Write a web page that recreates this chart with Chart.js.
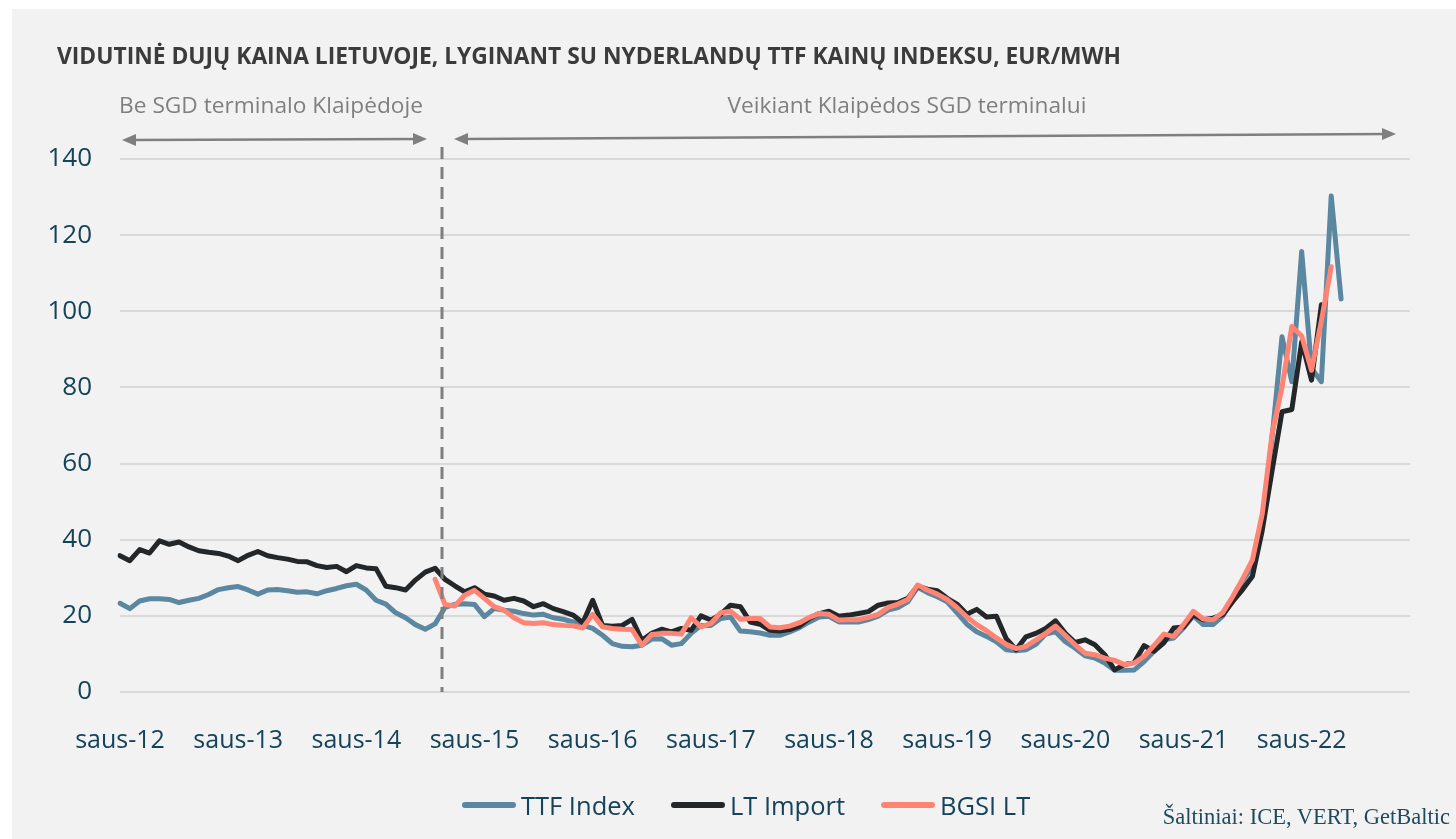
<!DOCTYPE html>
<html>
<head>
<meta charset="utf-8">
<script src="https://cdn.jsdelivr.net/npm/chart.js@4.4.1/dist/chart.umd.min.js"></script>
<style>
  html, body { margin: 0; padding: 0; background: #ffffff; }
  #panel { position: absolute; left: 12px; top: 9px; width: 1444px; height: 830px; background: #f2f2f2; }
  #wrap { position: absolute; left: 0; top: 0; width: 1456px; height: 839px; }
  .txt { position: absolute; font-family: "Open Sans", sans-serif; white-space: nowrap; line-height: 1; }
  #title { left: 57px; top: 45px; font-size: 22.8px; font-weight: 700; color: #3b3b3b; }
  .period { top: 94px; font-size: 22.7px; color: #7f7f7f; transform: translateX(-50%); }
  #legend { position: absolute; left: 462px; top: 788px; display: flex; align-items: center; font-family: "Open Sans", sans-serif; font-size: 25.5px; color: #15435a; }
  #legend .item { display: flex; align-items: center; margin-right: 36px; }
  #legend .swatch { width: 54px; height: 6px; border-radius: 3px; margin-right: 5px; }
  #source { right: 6px; top: 806px; font-family: "Liberation Serif", serif; font-size: 22.5px; color: #1f4a5c; }
</style>
</head>
<body>
<div id="panel"></div>
<div id="wrap"><canvas id="chart" width="1456" height="839"></canvas></div>
<div id="title" class="txt">VIDUTINĖ DUJŲ KAINA LIETUVOJE, LYGINANT SU NYDERLANDŲ TTF KAINŲ INDEKSU, EUR/MWH</div>
<div class="txt period" style="left:271px">Be SGD terminalo Klaipėdoje</div>
<div class="txt period" style="left:907px">Veikiant Klaipėdos SGD terminalui</div>
<div id="legend"></div>
<div id="source" class="txt">Šaltiniai: ICE, VERT, GetBaltic</div>
<script>
// month names (lt) and years on the axis
const monthNames = ["saus","vas","kov","bal","geg","birž","liep","rugp","rugs","spal","lapkr","gruod"];
const years = ["12","13","14","15","16","17","18","19","20","21","22"];

// TTF index, monthly from saus-12
const ttfIndex = [23.3,21.9,23.9,24.5,24.5,24.3,23.5,24.1,24.6,25.6,26.9,27.4,
  27.7,26.8,25.7,26.8,26.9,26.6,26.2,26.3,25.8,26.6,27.2,27.9,
  28.3,26.8,24.1,23.1,20.8,19.5,17.7,16.5,17.9,22.2,23.0,23.2,
  23.0,19.8,21.9,21.5,21.2,20.6,20.2,20.4,19.5,19.1,18.4,17.5,
  16.7,14.9,12.7,12.0,11.9,12.3,13.9,14.0,12.3,12.7,15.4,17.5,
  17.5,19.3,19.7,16.0,15.8,15.5,14.9,14.9,15.8,16.9,18.4,19.7,
  19.9,18.4,18.4,18.4,19.0,19.9,21.5,22.2,23.7,27.5,26.1,25.0,
  23.7,20.8,17.8,15.8,14.6,13.2,11.1,10.8,11.1,12.5,15.2,15.8,
  13.2,11.5,9.5,8.9,7.6,5.7,5.7,5.8,8.0,10.7,13.7,14.2,
  16.8,20.0,17.7,17.7,20.0,24.7,29.1,33.0,45.0,67.0,93.3,81.5,
  115.7,85.0,81.5,130.3,103.2];

// LT import price, monthly from saus-12
const ltImport = [35.8,34.5,37.4,36.5,39.7,38.8,39.4,38.1,37.1,36.7,36.4,35.7,
  34.5,35.9,36.9,35.8,35.3,34.9,34.3,34.2,33.2,32.7,33.0,31.6,
  33.2,32.6,32.4,27.8,27.4,26.8,29.4,31.5,32.5,29.6,27.9,26.3,
  27.4,25.7,25.2,24.1,24.6,23.9,22.4,23.2,21.9,21.1,20.2,18.2,
  24.1,17.5,17.3,17.5,19.1,13.6,15.4,16.5,15.8,16.7,16.2,20.0,
  18.9,20.4,22.8,22.4,18.4,17.8,16.2,16.0,16.4,17.3,19.3,20.6,
  21.2,19.9,20.2,20.6,21.1,22.8,23.4,23.5,24.6,27.8,27.0,26.6,
  24.6,23.1,20.4,21.7,19.7,19.9,14.0,11.1,14.5,15.4,16.7,18.7,
  15.4,13.0,13.7,12.4,9.8,5.8,7.2,7.8,12.2,10.7,12.9,16.8,
  17.1,20.3,19.0,19.4,20.3,23.8,26.9,30.4,42.5,58.2,73.6,74.2,
  92.0,81.9,101.7];

// BGSI LT, monthly from rugs-14
const bgsiStart = 32;
const bgsiLT = [29.6,23.0,22.6,25.4,
  26.7,24.6,22.4,21.5,19.5,18.2,18.0,18.2,17.7,17.5,17.4,16.8,
  20.4,17.1,16.7,16.5,16.4,12.3,15.1,15.4,15.4,15.2,19.5,17.1,
  18.0,20.8,21.2,19.1,19.3,19.3,17.1,16.9,17.3,18.2,19.6,20.6,
  20.4,18.9,19.0,19.0,19.6,20.4,22.2,23.1,24.3,28.1,26.8,25.7,
  24.3,22.2,19.7,17.7,16.1,14.2,12.5,11.4,12.0,13.6,15.4,17.3,
  14.9,12.4,10.2,9.8,8.9,8.3,7.2,7.6,9.4,12.2,15.2,14.6,
  17.7,21.2,19.2,19.0,20.9,25.1,29.7,34.7,46.9,67.9,80.0,96.0,
  93.5,84.5,97.5,111.7];

// terminal start, in month index units (between rugs-14 and spal-14)
const terminalStart = 32.7;
const yTicks = [0, 20, 40, 60, 80, 100, 120, 140];

let labels = [];
years.forEach(y => monthNames.forEach(m => labels.push(m + "-" + y)));

const colTTF = "#5b87a0";
const colLT = "#23272a";
const colBGSI = "#ff8473";
const tickColor = "#15435a";

// vertical dashed line and the two double arrows above the plot
const periodMarks = {
  id: "periodMarks",
  afterDraw(chart) {
    const ctx = chart.ctx;
    const area = chart.chartArea;
    const xs = chart.scales.x;
    const i0 = Math.floor(terminalStart);
    const p0 = xs.getPixelForValue(i0);
    const p1 = xs.getPixelForValue(i0 + 1);
    const dx = p0 + (p1 - p0) * (terminalStart - i0);
    ctx.save();
    ctx.strokeStyle = "#7f7f7f";
    ctx.fillStyle = "#7f7f7f";
    ctx.lineWidth = 3;
    ctx.setLineDash([12, 8]);
    ctx.beginPath();
    ctx.moveTo(dx, area.top - 12);
    ctx.lineTo(dx, area.bottom);
    ctx.stroke();
    ctx.setLineDash([]);
    drawArrow(ctx, area.left + 2, area.top - 19, dx - 15, area.top - 20);
    drawArrow(ctx, dx + 12, area.top - 20, area.right - 14, area.top - 25);
    ctx.restore();
  }
};

function drawArrow(ctx, x1, y1, x2, y2) {
  const a = Math.atan2(y2 - y1, x2 - x1);
  const len = 14, half = 6;
  ctx.lineWidth = 2.5;
  ctx.beginPath();
  ctx.moveTo(x1 + Math.cos(a) * 8, y1 + Math.sin(a) * 8);
  ctx.lineTo(x2 - Math.cos(a) * 8, y2 - Math.sin(a) * 8);
  ctx.stroke();
  [[x1, y1, a + Math.PI], [x2, y2, a]].forEach(([x, y, d]) => {
    ctx.beginPath();
    ctx.moveTo(x, y);
    ctx.lineTo(x - Math.cos(d) * len - Math.sin(d) * half, y - Math.sin(d) * len + Math.cos(d) * half);
    ctx.lineTo(x - Math.cos(d) * len + Math.sin(d) * half, y - Math.sin(d) * len - Math.cos(d) * half);
    ctx.closePath();
    ctx.fill();
  });
}

const datasets = [
  { label: "TTF Index", data: ttfIndex, borderColor: colTTF, order: 3 },
  { label: "LT Import", data: ltImport, borderColor: colLT, order: 2 },
  { label: "BGSI LT", data: Array(bgsiStart).fill(null).concat(bgsiLT), borderColor: colBGSI, order: 1 }
];
datasets.forEach(d => {
  d.borderWidth = 5;
  d.pointRadius = 0;
  d.tension = 0;
  d.fill = false;
  d.borderJoinStyle = "round";
  d.borderCapStyle = "round";
  d.spanGaps = false;
});

const chart = new Chart(document.getElementById("chart"), {
  type: "line",
  data: { labels: labels, datasets: datasets },
  plugins: [periodMarks],
  options: {
    responsive: false,
    animation: false,
    layout: { padding: { top: 159, right: 46, left: 0, bottom: 0 } },
    plugins: { legend: { display: false }, tooltip: { enabled: false }, title: { display: false } },
    scales: {
      x: {
        type: "category",
        offset: false,
        grid: { display: false },
        border: { display: false },
        afterFit: s => { s.height = 147; },
        ticks: {
          autoSkip: false,
          maxRotation: 0,
          padding: 26,
          color: tickColor,
          font: { family: "Open Sans", size: 25 },
          callback: function (v, i) { return i % 12 === 0 ? labels[i] : null; }
        }
      },
      y: {
        min: 0,
        max: 140,
        afterFit: s => { s.width = 120; },
        afterBuildTicks: s => { s.ticks = yTicks.map(v => ({ value: v })); },
        grid: { color: "#d9d9d9", lineWidth: 2, drawTicks: false },
        border: { display: false },
        ticks: {
          padding: 28,
          color: tickColor,
          font: { family: "Open Sans", size: 26 }
        }
      }
    }
  }
});

// html legend
const legendBox = document.getElementById("legend");
chart.data.datasets.forEach(d => {
  const item = document.createElement("div");
  item.className = "item";
  item.innerHTML = `<span class="swatch" style="background:${d.borderColor}"></span><span>${d.label}</span>`;
  legendBox.appendChild(item);
});
</script>
</body>
</html>
